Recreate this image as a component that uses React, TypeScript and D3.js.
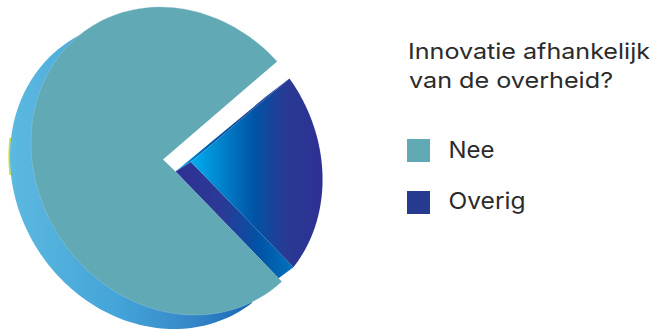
import React from "react";
import * as d3 from "d3";

// Survey answers
const categories = ["Nee", "Overig"];
const shares = [74.5, 25.5];
const titleLines = ["Innovatie afhankelijk", "van de overheid?"];
const legendWidths = [46, 77];

const WIDTH = 655;
const HEIGHT = 329;

// Tilted ellipse of the pie's face, as a linear map of the unit circle
const FACE = { cx: 177.5, cy: 161, a: 145.5, b: 17.5, d: 154 };
const DEPTH = { dx: -21, dy: 14 };
const WEDGE_SHIFT = { dx: -1.5, dy: 0 };
const START_ANGLE = (141.5 * Math.PI) / 180;
const GAP = (7.9 * Math.PI) / 180;
const rad = (deg: number) => (deg * Math.PI) / 180;

// Wedge corners near the centre of the pie
const TEAL_NOTCH: [number, number][] = [[163, 159.5], [175.5, 171.5]];
const WEDGE_APEX: [number, number] = [191, 162];
const DEPTH_HUB: [number, number] = [130, 170];
const BAND_END = 0.97;

const TEAL = "#62a9b6";
const NAVY = "#263b8f";

type P = [number, number];

const onFace = (angle: number, dx = 0, dy = 0): P => {
  // d3 pie angles start at 12 o'clock, turning clockwise
  const t = angle - Math.PI / 2;
  return [
    FACE.cx + dx + FACE.a * Math.cos(t) + FACE.b * Math.sin(t),
    FACE.cy + dy + FACE.d * Math.sin(t),
  ];
};

const arcPoints = (from: number, to: number, dx = 0, dy = 0): P[] => {
  const steps = 120;
  return d3.range(steps + 1).map((i) => onFace(from + ((to - from) * i) / steps, dx, dy));
};

const line = d3.line<P>().x((p) => p[0]).y((p) => p[1]);
const closed = (pts: P[]) => (line(pts) as string) + "Z";
const lerp = (a: P, b: P, k: number): P => [a[0] + (b[0] - a[0]) * k, a[1] + (b[1] - a[1]) * k];

const pie = d3.pie<number>().sort(null).startAngle(START_ANGLE).endAngle(START_ANGLE + 2 * Math.PI);

export default function App() {
  const [nee, overig] = pie(shares);

  const tealArc = arcPoints(nee.startAngle, nee.endAngle);
  const tealPath = closed([...tealArc, ...TEAL_NOTCH]);

  const wedgeFrom = overig.startAngle + GAP;
  const wedgeTo = overig.endAngle - GAP;
  const wedgeArc = arcPoints(wedgeFrom, wedgeTo, WEDGE_SHIFT.dx, WEDGE_SHIFT.dy);
  const wedgePath = closed([WEDGE_APEX, ...wedgeArc]);

  const lowerEnd = wedgeArc[wedgeArc.length - 1];
  const upperEnd = wedgeArc[0];
  const tealLowerEnd = tealArc[0];
  const bandPath = closed([TEAL_NOTCH[1], WEDGE_APEX, lowerEnd, lerp(TEAL_NOTCH[1], tealLowerEnd, BAND_END)]);
  const sliverMid = lerp(TEAL_NOTCH[1], upperEnd, 0.8);
  const sliverPath = closed([TEAL_NOTCH[1], [sliverMid[0], sliverMid[1] - 1], upperEnd, WEDGE_APEX]);

  // Depth of the pie: the face ellipse pushed down and to the left
  const backPath = closed([
    ...arcPoints(nee.startAngle + rad(4.5), nee.endAngle - rad(60), DEPTH.dx, DEPTH.dy),
    DEPTH_HUB,
  ]);
  const glintPath = line(arcPoints(rad(270), rad(284), DEPTH.dx - 0.7, DEPTH.dy)) as string;

  return (
    <svg
      width={WIDTH}
      height={HEIGHT}
      viewBox={`0 0 ${WIDTH} ${HEIGHT}`}
      style={{ position: "absolute", left: 0, top: 0, background: "#fff" }}
    >
      <defs>
        <linearGradient id="depth" gradientUnits="userSpaceOnUse" x1={10} x2={255} y1={0} y2={0}>
          <stop offset="0" stopColor="#5cb9e0" />
          <stop offset="0.45" stopColor="#44a3d8" />
          <stop offset="0.75" stopColor="#3586c8" />
          <stop offset="1" stopColor="#1666b4" />
        </linearGradient>
        <linearGradient id="wedge" gradientUnits="userSpaceOnUse" x1={191} x2={322} y1={0} y2={0}>
          <stop offset="0" stopColor="#00aeef" />
          <stop offset="0.48" stopColor="#0054a6" />
          <stop offset="0.72" stopColor="#283a94" />
          <stop offset="1" stopColor="#2e3192" />
        </linearGradient>
        <linearGradient id="band" gradientUnits="userSpaceOnUse" x1={176} x2={292} y1={0} y2={0}>
          <stop offset="0" stopColor="#2e3192" />
          <stop offset="0.4" stopColor="#2b3a96" />
          <stop offset="0.72" stopColor="#0054a6" />
          <stop offset="1" stopColor="#0072bc" />
        </linearGradient>
        <linearGradient id="sliver" gradientUnits="userSpaceOnUse" x1={176} x2={289} y1={0} y2={0}>
          <stop offset="0" stopColor="#00aeef" />
          <stop offset="0.3" stopColor="#0054a6" />
          <stop offset="1" stopColor="#2e3192" />
        </linearGradient>
      </defs>

      <path d={glintPath} fill="none" stroke="#d3dc14" strokeWidth={1.6} />
      <path d={backPath} fill="url(#depth)" />
      <path d={sliverPath} fill="url(#sliver)" />
      <path d={bandPath} fill="url(#band)" />
      <path d={wedgePath} fill="url(#wedge)" />
      <path d={tealPath} fill={TEAL} />
      <path d={line(tealArc) as string} fill="none" stroke="#a9d4dc" strokeOpacity={0.55} strokeWidth={0.6} />

      <g fontFamily="Inter, 'Noto Sans', sans-serif" fill="#2b2b2b">
        <text x={408} y={59} fontSize={22} textLength={242} lengthAdjust="spacingAndGlyphs">
          {titleLines[0]}
        </text>
        <text x={409} y={88} fontSize={22} textLength={204} lengthAdjust="spacingAndGlyphs">
          {titleLines[1]}
        </text>
        {categories.map((name, i) => (
          <g key={name}>
            <rect x={407} y={139 + i * 52} width={23} height={23} fill={i === 0 ? TEAL : NAVY} />
            <text x={448.5} y={158 + i * 51} fontSize={22.5} textLength={legendWidths[i]} lengthAdjust="spacingAndGlyphs">
              {name}
            </text>
          </g>
        ))}
      </g>
    </svg>
  );
}
